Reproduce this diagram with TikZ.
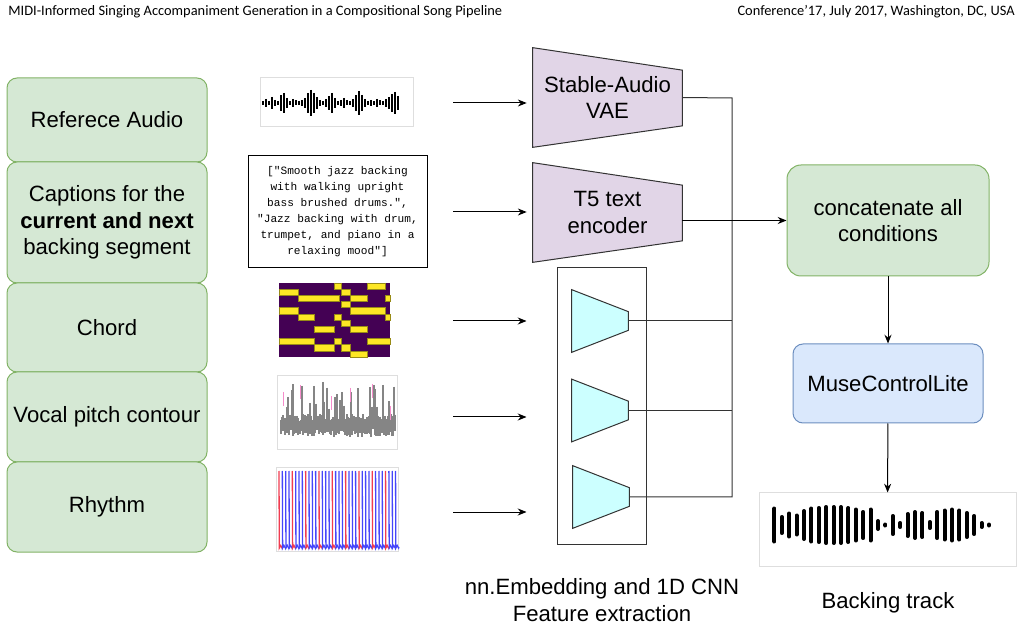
\documentclass[tikz,border=0pt]{standalone}
\usepackage{fontspec}
\setmainfont{Liberation Sans}
\newfontfamily\hdrfont{Carlito}
\newfontfamily\capfont{Liberation Mono}
\usepackage{tikz}
\usetikzlibrary{arrows.meta,positioning,calc,backgrounds}
\definecolor{CondG}{RGB}{213,232,212}
\definecolor{CondGd}{RGB}{130,179,102}
\definecolor{EncP}{RGB}{225,213,231}
\definecolor{CnnC}{RGB}{204,255,255}
\definecolor{MclB}{RGB}{218,232,252}
\definecolor{MclBd}{RGB}{108,142,191}
\definecolor{VirP}{RGB}{68,1,84}
\definecolor{VirY}{RGB}{253,231,37}
\definecolor{RhyB}{RGB}{70,70,250}
\definecolor{RhyR}{RGB}{240,60,80}
\newdimen\pxu \pxu=0.02cm
\tikzset{
  cond/.style={rounded corners=10\pxu,draw=CondGd,fill=CondG,line width=1\pxu,
               minimum width=200\pxu,align=center,inner sep=0pt},
  mcl/.style={rounded corners=10\pxu,draw=MclBd,fill=MclB,line width=1\pxu,
              minimum width=190\pxu,minimum height=79\pxu,inner sep=0pt},
  enc/.style={draw=black!80,fill=EncP,line width=1\pxu},
  cnn/.style={draw=black!80,fill=CnnC,line width=1\pxu},
  imgbox/.style={draw=black!13,line width=1\pxu,inner sep=0pt},
  arr/.style={-{Stealth[length=5pt,width=4pt]},line width=1\pxu},
  wire/.style={line width=1\pxu,black!80},
}

\begin{document}
\begin{tikzpicture}[x=0.02cm,y=-0.02cm,font=\fontsize{12.6}{15.1}\selectfont,
    encnode/.style={align=center,inner sep=0pt,minimum width=149\pxu,minimum height=99\pxu},
    cnnnode/.style={inner sep=0pt,minimum width=56\pxu,minimum height=62\pxu}]
  \useasboundingbox (0,0) rectangle (1022,628);
  % running head
  \node[anchor=base west,inner sep=0pt,font=\hdrfont\fontsize{8.2}{10}\selectfont] (hl) at (8,16)
    {MIDI-Informed Singing Accompaniment Generation in a Compositional Song Pipeline};
  \node[anchor=base east,inner sep=0pt,font=\hdrfont\fontsize{8.2}{10}\selectfont] (hr) at (1015,16)
    {Conference’17, July 2017, Washington, DC, USA};
  % conditions
  \node[cond,minimum height=84\pxu] (refa) at (107,120) {Referece Audio};
  \node[cond,minimum height=121\pxu] (capt) at (107,222.5) {Captions for the\\\textbf{current and next}\\backing segment};
  \node[cond,minimum height=89\pxu] (chrd) at (107,327.5) {Chord};
  \node[cond,minimum height=90\pxu] (vocl) at (107,417) {Vocal pitch contour};
  \node[cond,minimum height=90\pxu] (rhym) at (107,507) {Rhythm};
  % reference audio
  \node[imgbox,minimum width=153\pxu,minimum height=49\pxu] (aud) at (336.5,102.5) {};
  \foreach \h [count=\i] in {4,8,4,12,6,4,16,20,10,4,8,5,4,6,10,20,26,20,12,6,4,8,14,20,
                             10,4,6,10,5,4,8,16,24,16,8,4,6,4,8,5,4,8,12,18,22,14}
    \draw[line width=1.2\pxu] (260+3*\i,103-\h/2) -- (260+3*\i,103+\h/2);
  % caption text
  \node[draw=black,line width=1\pxu,minimum width=179\pxu,minimum height=112\pxu,inner sep=0pt,
        align=center,font=\capfont\fontsize{6.35}{9.1}\selectfont] (ctxt) at (337.5,212)
    {["Smooth jazz backing\\with walking upright\\bass brushed drums.",\\"Jazz backing with drum,\\trumpet, and piano in a\\relaxing mood"]};
  % chord roll
  \node[inner sep=0pt,minimum width=112\pxu,minimum height=74\pxu] (croll) at (335,320) {};
  \begin{scope}[shift={(279,283)}]
    \fill[VirP] (0,0) rectangle (111.3,74);
    \foreach \r/\a/\b in {0/54.7/62.3, 0/88/105.7, 1/0/19, 1/62.3/70.7, 2/19/60, 2/70.7/88,
                          2/105.7/111.3, 3/62.3/70.7, 4/0/19, 4/70.7/105.7, 5/19/34.7,
                          5/54.7/62.3, 5/105.7/111.3, 6/62.3/70.7, 7/34.7/54.7, 7/70.7/88,
                          9/0/34.7, 9/54.7/62.3, 9/88/111.3, 10/34.7/54.7, 10/62.3/70.7, 11/70.7/88}
      \fill[VirY,draw=VirY!60!black,line width=0.4\pxu] (\a,\r*6.17) rectangle (\b,\r*6.17+6.17);
  \end{scope}
  % pitch contour
  \node[imgbox,minimum width=120\pxu,minimum height=74\pxu] (pitch) at (337,413) {};
  \pgfmathsetseed{11}
  \foreach \i in {0,...,114} {
    \pgfmathsetmacro\yb{428+9*rnd}
    \pgfmathsetmacro\yt{rnd<0.2 ? 381+28*rnd : 414+8*rnd}
    \draw[black!48,line width=1.1\pxu] (281+\i,\yt) -- (281+\i,\yb);
  }
  \foreach \x/\t in {283/392, 300/385, 331/396, 350/388, 372/384, 390/406}
    \draw[magenta!45,line width=0.8\pxu] (\x,\t) -- (\x,\t+14);
  % rhythm
  \node[imgbox,minimum width=122\pxu,minimum height=83\pxu] (beat) at (337,509.5) {};
  \foreach \i in {0,...,35} {
    \pgfmathsetmacro\xs{279+3.33*\i}
    \pgfmathtruncatemacro\m{mod(\i,4)}
    \ifnum\m=0 \def\rc{RhyR}\else \def\rc{RhyB}\fi
    \draw[\rc,line width=1.3\pxu]
      (\xs,471) -- (\xs+0.3,548) -- (\xs+1.65,545.5) -- (\xs+3.03,548) -- (\xs+3.33,547);
  }
  % encoders
  \node[encnode] (vae) at (607.5,97.5) {Stable-Audio\\VAE};
  \node[encnode] (t5) at (607.5,212.5) {T5 text\\encoder};
  \node[draw=black!80,line width=1\pxu,inner sep=0pt,minimum width=89\pxu,minimum height=276\pxu] (cnnbox) at (601.5,406) {};
  \node[cnnnode] (e1) at (600,321) {};
  \node[cnnnode] (e2) at (600,410.5) {};
  \node[cnnnode] (e3) at (601,497) {};
  \begin{scope}[on background layer]
    \foreach \n in {vae,t5}
      \draw[enc] (\n.north west) -- ($(\n.north east)+(0,22.5)$) -- ($(\n.south east)+(0,-21.5)$) -- (\n.south west) -- cycle;
    \foreach \n in {e1,e2,e3}
      \draw[cnn] (\n.north west) -- ($(\n.north east)+(0,22)$) -- ($(\n.south east)+(0,-22)$) -- (\n.south west) -- cycle;
  \end{scope}
  % inputs
  \coordinate (s1) at (453,103);
  \coordinate (s2) at (453,212);
  \coordinate (s3) at (453,321);
  \coordinate (s4) at (453,417);
  \coordinate (s5) at (453,512);
  \draw[arr,shorten >=6\pxu] (s1) -- (s1 -| vae.west);
  \draw[arr,shorten >=6\pxu] (s2) -- (s2 -| t5.west);
  \foreach \s in {s3,s4,s5}
    \draw[arr,shorten >=30\pxu] (\s) -- (\s -| cnnbox.west);
  % outputs
  \node[cond,minimum width=202\pxu,minimum height=111\pxu,rounded corners=14\pxu] (cat) at (888,220.5) {concatenate all\\conditions};
  \node[mcl] (mcl) at (888,383.5) {MuseControlLite};
  \node[imgbox,minimum width=257\pxu,minimum height=73\pxu] (bak) at (887.5,529.5) {};
  \coordinate (bus) at (732,98);
  \draw[wire] (vae.east) -- (bus) -- (bus |- e3.east) -- (e3.east);
  \draw[wire] (e1.east) -- (bus |- e1.east);
  \draw[wire] (e2.east) -- (bus |- e2.east);
  \draw[arr] (t5.east |- cat.west) -- (cat.west);
  \draw[arr] (cat) -- (mcl);
  \draw[arr] (mcl) -- (bak);
  % backing waveform
  \foreach \h [count=\i] in {37,20,27,23,32,37,38,40,40,40,38,35,30,35,12,5,22,8,26,30,28,10,30,33,35,33,28,22,8,3}
    \draw[line width=4\pxu,line cap=round] (767+7.4*\i,525-\h/2+2) -- (767+7.4*\i,525+\h/2-2);
  % labels
  \node[align=center] (fel) at (602,600) {nn.Embedding and 1D CNN\\Feature extraction};
  \node (bakl) at (888,603) {Backing track};
\end{tikzpicture}
\end{document}
